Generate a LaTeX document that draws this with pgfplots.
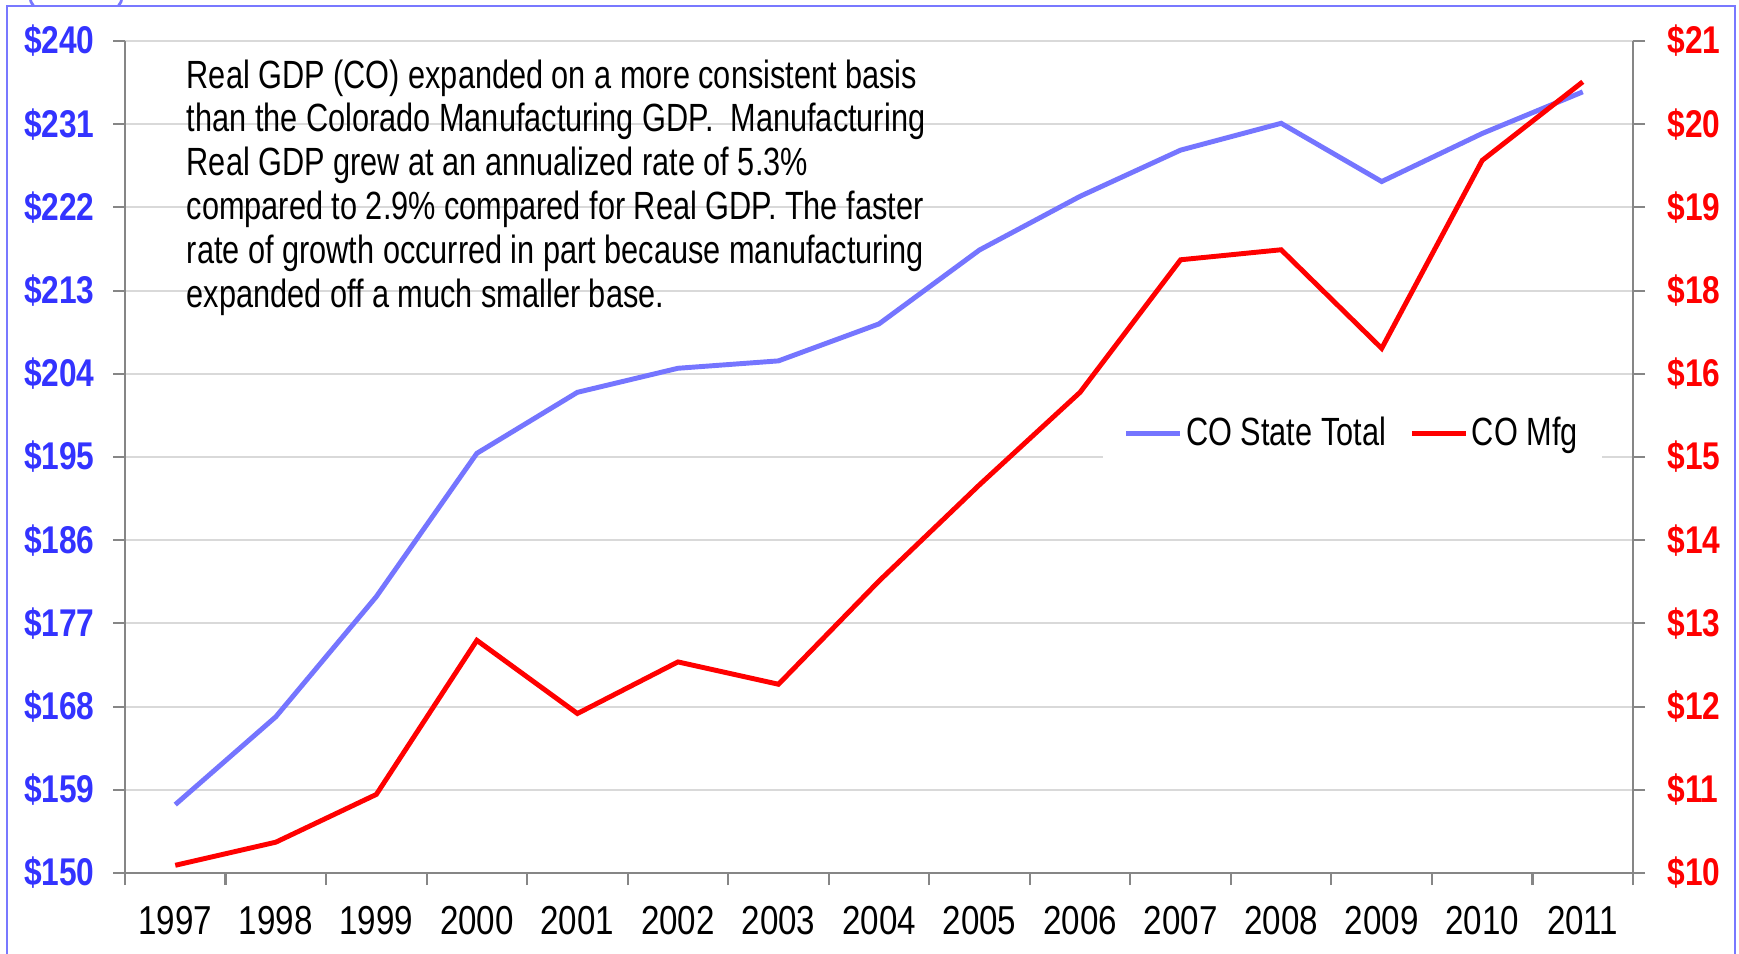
\documentclass[border=0pt]{standalone}
\usepackage{fontspec}
\setmainfont{Liberation Sans}[FakeStretch=0.82]
\newfontfamily\narrowfont{Liberation Sans}[FakeStretch=0.78]
\usepackage{pgfplots}
\usepackage{pgfplotstable}
\pgfplotsset{compat=1.18}

\definecolor{gdpblue}{RGB}{117,117,255}
\definecolor{lblblue}{RGB}{51,51,255}
\definecolor{framecol}{RGB}{120,120,255}
\definecolor{gridgray}{RGB}{217,217,217}
\definecolor{axisgray}{RGB}{134,134,134}

% year index 0 = 1997; total in $bn (left axis), mfg in $bn (right axis)
\pgfplotstableread{
idx total mfg
0  157.4 10.10
1  166.9 10.40
2  179.9 11.02
3  195.4 13.02
4  202.0 12.07
5  204.6 12.74
6  205.4 12.45
7  209.4 13.79
8  217.4 15.04
9  223.2 16.24
10 228.2 17.96
11 231.1 18.09
12 224.8 16.81
13 230.0 19.25
14 234.5 20.27
}\gdpdata

\begin{document}
\begin{tikzpicture}
\useasboundingbox (-12.5mm,-8mm) rectangle (161.4mm,87.3mm);
\draw[framecol, line width=0.8pt] (-4.9mm,87.6mm) ellipse [x radius=4.6mm, y radius=2.35mm];
\filldraw[fill=white, draw=framecol, line width=0.8pt] (-11.8mm,-12mm) rectangle (161.0mm,86.7mm);

\pgfplotsset{
  common/.style={
    scale only axis, width=150.8mm, height=83.2mm,
    at={(0,0)}, anchor=south west,
    xmin=-0.5, xmax=14.5,
    tick align=outside,
    major tick length=1.2mm, minor tick length=1.2mm,
    axis line style={axisgray, line width=0.6pt},
    tick style={axisgray, line width=0.6pt},
  }
}

\begin{axis}[
  common,
  ymin=150, ymax=240,
  axis x line*=bottom, axis y line*=left,
  xtick={0,...,14},
  xticklabels={1997,1998,1999,2000,2001,2002,2003,2004,2005,2006,2007,2008,2009,2010,2011},
  major x tick style={draw=none},
  minor xtick={-0.5,0.5,...,14.5},
  xticklabel style={font=\fontsize{11.5}{13}\selectfont, yshift=-0.9mm},
  ytick={150,159,168,177,186,195,204,213,222,231,240},
  yticklabels={\$150,\$159,\$168,\$177,\$186,\$195,\$204,\$213,\$222,\$231,\$240},
  yticklabel style={lblblue, font=\bfseries\fontsize{11}{13}\selectfont, xshift=-0.6mm},
  ymajorgrids, grid style={gridgray, line width=0.6pt},
]
\addplot[gdpblue, line width=1.4pt] table[x=idx, y=total] {\gdpdata};
\node[anchor=north west, align=left, inner sep=1.5pt,
      font=\narrowfont\fontsize{11.2}{12.5}\selectfont] at (rel axis cs:0.037,0.985)
  {Real GDP (CO) expanded on a more consistent basis\\
   than the Colorado Manufacturing GDP.\ \ Manufacturing\\
   Real GDP grew at an annualized rate of 5.3\%\\
   compared to 2.9\% compared for Real GDP. The faster\\
   rate of growth occurred in part because manufacturing\\
   expanded off a much smaller base.};
\end{axis}

\begin{axis}[
  common,
  ymin=10, ymax=20.8,
  axis x line=none, axis y line*=right,
  ytick={10,11.08,12.16,13.24,14.32,15.4,16.48,17.56,18.64,19.72,20.8},
  yticklabels={\$10,\$11,\$12,\$13,\$14,\$15,\$16,\$18,\$19,\$20,\$21},
  yticklabel style={red, font=\bfseries\fontsize{11}{13}\selectfont, xshift=1.0mm},
  legend columns=2,
  legend style={draw=none, fill=white, at={(0.814,0.528)}, anchor=center,
    font=\narrowfont\fontsize{11.2}{13}\selectfont, inner sep=6pt,
    nodes={inner sep=1pt},
    /tikz/every even column/.append style={column sep=2mm}},
  legend image code/.code={\draw[#1] (0mm,0mm) -- (5.4mm,0mm);},
]
\addlegendimage{gdpblue, line width=1.4pt}
\addlegendentry{CO State Total}
\addplot[red, line width=1.4pt] table[x=idx, y=mfg] {\gdpdata};
\addlegendentry{CO Mfg}
\end{axis}
\end{tikzpicture}
\end{document}
